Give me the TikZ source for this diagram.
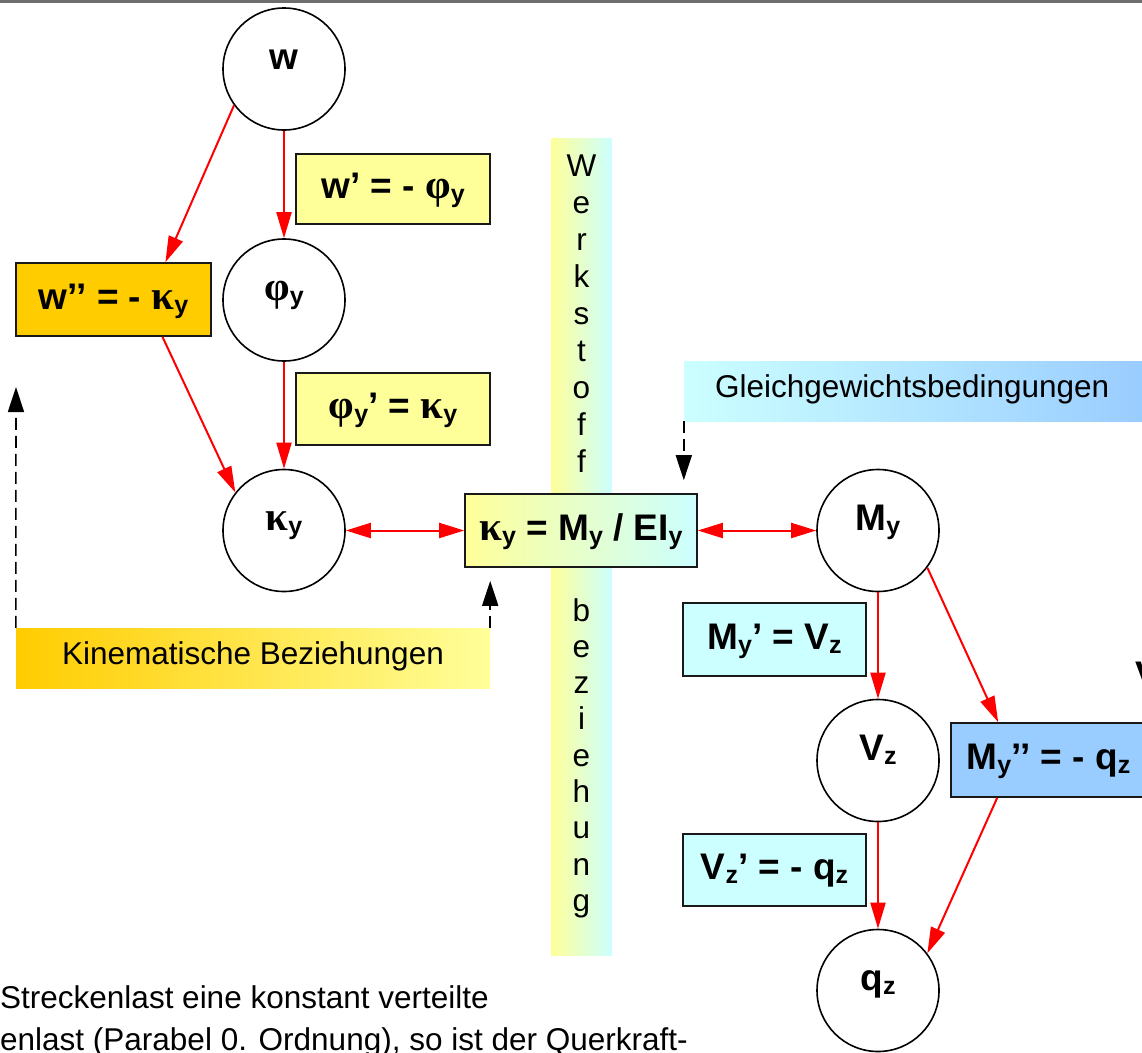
\documentclass[tikz,border=0pt]{standalone}
\usepackage{fontspec}
\setmainfont{Liberation Sans}
\newfontfamily\grkfont{Liberation Serif}
\usetikzlibrary{arrows.meta,calc}

\definecolor{paleyellow}{RGB}{255,255,153}
\definecolor{palecyan}{RGB}{204,255,255}
\definecolor{goldfill}{RGB}{255,204,0}
\definecolor{skyfill}{RGB}{153,204,255}
\definecolor{rulegray}{RGB}{110,110,110}

% subscript, Greek letters
\newcommand\ix[1]{\raisebox{-4pt}{\fontsize{25}{25}\selectfont#1}}
\newcommand\kp{{\grkfont\fontsize{41}{41}\selectfont κ}}
\newcommand\ph{{\grkfont\fontsize{41}{41}\selectfont φ}}

\begin{document}
\begin{tikzpicture}[x=1pt,y=-1pt,
  circ/.style={circle,draw=black,line width=1.6pt,fill=white,minimum size=122pt,inner sep=0pt},
  circlbl/.style={anchor=base,inner sep=0pt,font=\fontsize{37}{40}\selectfont\bfseries},
  eqbox/.style={rectangle,draw=black!90,line width=1.6pt,inner sep=0pt,
    text height=27pt,text depth=8pt,font=\fontsize{37}{40}\selectfont\bfseries},
  band/.style={rectangle,inner sep=0pt,draw=none},
  plain/.style={inner sep=0pt,font=\fontsize{31.5}{36}\selectfont},
  redarr/.style={draw=red,line width=2pt,-{Triangle[length=26pt,width=15pt]}},
  dblarr/.style={draw=red,line width=2pt,{Triangle[length=25pt,width=15pt]}-{Triangle[length=25pt,width=15pt]}},
  dasharr/.style={draw=black,line width=1.6pt,dash pattern=on 12pt off 6pt,-{Triangle[length=25pt,width=16pt]}}]

\useasboundingbox (0,0) rectangle (1142,1052);
\clip (0,0) rectangle (1142,1052);

% rule along the top edge
\fill[rulegray] (0,0) rectangle (1142,2.5);

% vertical band: Werkstoffbeziehung
\node[band,left color=paleyellow,right color=palecyan,minimum width=61pt,minimum height=817pt] (werk) at (581.5,546.5) {};
\foreach \ch [count=\i from 0] in {W,e,r,k,s,t,o,f,f}
  \node[plain,anchor=base] (wa\i) at (581.5,176+37.1*\i) {\ch};
\foreach \ch [count=\i from 0] in {b,e,z,i,e,h,u,n,g}
  \node[plain,anchor=base] (wb\i) at (581.5,621+36.3*\i) {\ch};

% horizontal bands
\node[band,left color=goldfill,right color=paleyellow,minimum width=474pt,minimum height=60pt,
  text height=22pt,text depth=10pt,font=\fontsize{31.5}{36}\selectfont] (kin) at (253,658) {Kinematische Beziehungen};
\node[band,left color=palecyan,right color=skyfill,minimum width=466pt,minimum height=60pt] (gg) at (917,391) {};
\node[plain,anchor=base west] (ggt) at (715,397) {Gleichgewichtsbedingungen};

% state variables
\node[circ] (w) at (284,69) {};
\node[circlbl] (wl) at (w.center) {w};
\node[circ] (phi) at (284,300) {};
\node[circlbl] (phil) at (phi.center) {\ph\ix{y}};
\node[circ] (k) at (284,530.5) {};
\node[circlbl] (kl) at (k.center) {\kp\ix{y}};
\node[circ] (My) at (878,530.5) {};
\node[circlbl] (Myl) at (My.center) {M\ix{y}};
\node[circ] (Vz) at (878,760.5) {};
\node[circlbl] (Vzl) at (Vz.center) {V\ix{z}};
\node[circ] (q) at (878,990.5) {};
\node[circlbl] (ql) at (q.center) {q\ix{z}};

% relations
\node[eqbox,fill=paleyellow,minimum width=194pt,minimum height=70pt] (wp) at (393,189) {w’ = - \ph\ix{y}};
\node[eqbox,fill=paleyellow,minimum width=194pt,minimum height=72pt] (php) at (393,409) {\ph\ix{y}’ = \kp\ix{y}};
\node[eqbox,fill=goldfill,minimum width=195pt,minimum height=73pt] (wpp) at (113.5,299.5) {w’’ = - \kp\ix{y}};
\node[eqbox,left color=paleyellow,right color=palecyan,minimum width=232pt,minimum height=73pt] (cbox) at (581,530.5) {\kp\ix{y} = M\ix{y} / EI\ix{y}};
\node[eqbox,fill=palecyan,minimum width=183pt,minimum height=73pt] (Myp) at (774.5,639.5) {M\ix{y}’ = V\ix{z}};
\node[eqbox,fill=palecyan,minimum width=183pt,minimum height=72pt] (Vzp) at (774.5,870) {V\ix{z}’ = - q\ix{z}};
\node[eqbox,fill=skyfill,minimum width=195pt,minimum height=74pt] (Mypp) at (1048.5,760) {M\ix{y}’’ = - q\ix{z}};

% letter at the right edge
\node[circlbl,anchor=base west] (vcut) at (1135,687) {V};

% derivative chains
\draw[redarr] (w) -- (phi);
\draw[redarr] (phi) -- (k);
\draw[redarr] (w.216) -- ($(wpp.north west)!0.764!(wpp.north east)$);
\draw[redarr] ($(wpp.south west)!0.749!(wpp.south east)$) -- (k.142);
\draw[dblarr] (k) -- (cbox);
\draw[dblarr] (cbox) -- (My);
\draw[redarr] (My) -- (Vz);
\draw[redarr] (Vz) -- (q);
\draw[redarr] (My.-37) -- ($(Mypp.north west)+(48,0)$);
\draw[redarr] ($(Mypp.south west)+(47,0)$) -- (q.37);

% dashed references
\coordinate (kup) at (16,387);
\draw[dasharr] (kin.north west) -- (kup);
\draw[dasharr,shorten >=13pt] (kin.north east) -- (kin.north east |- cbox.south);
\draw[dasharr,shorten >=13pt] (gg.south west) -- (gg.south west |- cbox.north);

% running text below
\node[plain,anchor=base west] (t1) at (0,1008) {Streckenlast eine konstant verteilte};
\node[plain,anchor=base west] (t2) at (0,1050) {enlast (Parabel 0. Ordnung), so ist der Querkraft-};
\end{tikzpicture}
\end{document}
